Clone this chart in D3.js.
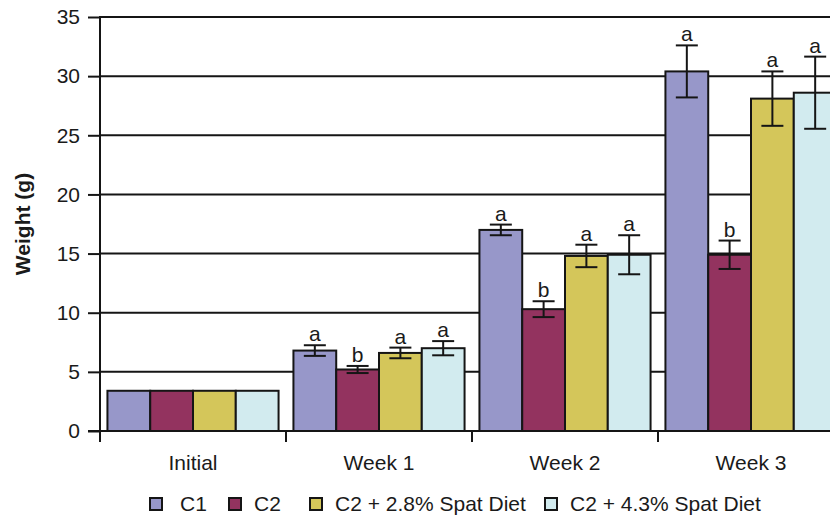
<!DOCTYPE html>
<html>
<head>
<meta charset="utf-8">
<script src="https://cdn.jsdelivr.net/npm/d3@7"></script>
<style>
  html, body { margin: 0; padding: 0; background: #fff; }
  svg { display: block; font-family: "Liberation Sans", Arial, sans-serif; }
</style>
</head>
<body>
<svg id="chart" width="830" height="521"></svg>
<script>
// Sampling times and diet treatments
const categories = ["Initial", "Week 1", "Week 2", "Week 3"];
const seriesNames = ["C1", "C2", "C2 + 2.8% Spat Diet", "C2 + 4.3% Spat Diet"];
const seriesColors = ["#9797c9", "#93335f", "#d4c65a", "#d2ebef"];

// Mean weight (g) per treatment at each time
const c1Mean     = [3.4, 6.8, 17.0, 30.4];
const c2Mean     = [3.4, 5.2, 10.3, 14.9];
const spat28Mean = [3.4, 6.6, 14.8, 28.1];
const spat43Mean = [3.4, 7.0, 14.9, 28.6];

// Error (± g); none for initial weights
const c1Err     = [null, 0.45, 0.45, 2.2];
const c2Err     = [null, 0.3, 0.67, 1.2];
const spat28Err = [null, 0.45, 0.95, 2.3];
const spat43Err = [null, 0.6, 1.65, 3.05];

// Significance letters
const c1Sig     = ["", "a", "a", "a"];
const c2Sig     = ["", "b", "b", "b"];
const spat28Sig = ["", "a", "a", "a"];
const spat43Sig = ["", "a", "a", "a"];

const yTicks = [0, 5, 10, 15, 20, 25, 30, 35];

const means = [c1Mean, c2Mean, spat28Mean, spat43Mean];
const errs = [c1Err, c2Err, spat28Err, spat43Err];
const sigs = [c1Sig, c2Sig, spat28Sig, spat43Sig];

const rows = [];
categories.forEach((cat, ci) => {
  seriesNames.forEach((s, si) => {
    rows.push({ cat, series: s, si, value: means[si][ci], err: errs[si][ci], sig: sigs[si][ci] });
  });
});

const svg = d3.select("#chart");
const W = 830;
const plotLeft = 100, plotRight = 844, plotTop = 17, plotBottom = 431;
const ink = "#151515";
const textInk = "#1a1a1a";

const y = d3.scaleLinear().domain([0, 35]).range([plotBottom, plotTop]);
const x0 = d3.scaleBand().domain(categories).range([plotLeft, plotRight])
  .paddingInner(0.08).paddingOuter(0.04);
const x1 = d3.scaleBand().domain(seriesNames).range([0, x0.bandwidth()]);
const color = d3.scaleOrdinal().domain(seriesNames).range(seriesColors);

// horizontal gridlines
svg.append("g").selectAll("line").data(yTicks).join("line")
  .attr("x1", plotLeft).attr("x2", W)
  .attr("y1", d => y(d)).attr("y2", d => y(d))
  .attr("stroke", ink).attr("stroke-width", 2);

// y axis with outward ticks
const yAxis = svg.append("g").attr("transform", `translate(${plotLeft},0)`)
  .call(d3.axisLeft(y).tickValues(yTicks).tickSize(12).tickPadding(8).tickSizeOuter(0));
yAxis.select(".domain").remove();
yAxis.selectAll(".tick line").attr("stroke", ink).attr("stroke-width", 2);
yAxis.selectAll(".tick text").attr("fill", textInk)
  .style("font-size", "21px").style("font-family", "'Liberation Sans', Arial, sans-serif");

// bars
svg.append("g").selectAll("rect").data(rows).join("rect")
  .attr("x", d => x0(d.cat) + x1(d.series))
  .attr("y", d => y(d.value))
  .attr("width", x1.bandwidth())
  .attr("height", d => y(0) - y(d.value))
  .attr("fill", d => color(d.series))
  .attr("stroke", ink).attr("stroke-width", 2);

// error bars
const eb = rows.filter(d => d.err != null);
const cx = d => x0(d.cat) + x1(d.series) + x1.bandwidth() / 2;
const capHalf = 11;
const eg = svg.append("g").attr("stroke", ink).attr("stroke-width", 2);
eg.selectAll("line.v").data(eb).join("line").attr("class", "v")
  .attr("x1", cx).attr("x2", cx)
  .attr("y1", d => y(d.value + d.err)).attr("y2", d => y(d.value - d.err));
eg.selectAll("line.t").data(eb).join("line").attr("class", "t")
  .attr("x1", d => cx(d) - capHalf).attr("x2", d => cx(d) + capHalf)
  .attr("y1", d => y(d.value + d.err)).attr("y2", d => y(d.value + d.err));
eg.selectAll("line.b").data(eb).join("line").attr("class", "b")
  .attr("x1", d => cx(d) - capHalf).attr("x2", d => cx(d) + capHalf)
  .attr("y1", d => y(d.value - d.err)).attr("y2", d => y(d.value - d.err));

// significance letters
svg.append("g").selectAll("text").data(eb).join("text")
  .attr("x", cx)
  .attr("y", d => y(d.value + d.err) - 4)
  .attr("text-anchor", "middle")
  .attr("fill", textInk)
  .style("font-size", "21px")
  .text(d => d.sig);

// x axis baseline, y axis line and category ticks
svg.append("line").attr("x1", plotLeft - 12).attr("x2", W)
  .attr("y1", y(0)).attr("y2", y(0)).attr("stroke", ink).attr("stroke-width", 2);
svg.append("line").attr("x1", plotLeft).attr("x2", plotLeft)
  .attr("y1", y(35) - 1).attr("y2", y(0) + 11).attr("stroke", ink).attr("stroke-width", 2);
const bounds = d3.range(categories.length + 1).map(i => plotLeft + i * x0.step());
svg.append("g").selectAll("line").data(bounds).join("line")
  .attr("x1", d => d).attr("x2", d => d)
  .attr("y1", y(0)).attr("y2", y(0) + 11)
  .attr("stroke", ink).attr("stroke-width", 2);

// category labels
svg.append("g").selectAll("text").data(categories).join("text")
  .attr("x", d => x0(d) + x0.bandwidth() / 2)
  .attr("y", 470)
  .attr("text-anchor", "middle")
  .attr("fill", textInk)
  .style("font-size", "21px")
  .text(d => d);

// y axis title
svg.append("text")
  .attr("transform", `translate(30,${(plotTop + plotBottom) / 2}) rotate(-90)`)
  .attr("text-anchor", "middle")
  .attr("fill", textInk)
  .style("font-size", "21px").style("font-weight", "bold")
  .text("Weight (g)");

// legend
const legendX = [150, 229, 310, 545];
const lg = svg.append("g").selectAll("g").data(seriesNames).join("g")
  .attr("transform", (d, i) => `translate(${legendX[i]},498)`);
lg.append("rect").attr("width", 12).attr("height", 12)
  .attr("fill", d => color(d)).attr("stroke", ink).attr("stroke-width", 2);
lg.append("text").attr("x", d => d === "C1" ? 30 : 25).attr("y", 13)
  .attr("fill", textInk).style("font-size", "21px").text(d => d);
</script>
</body>
</html>
